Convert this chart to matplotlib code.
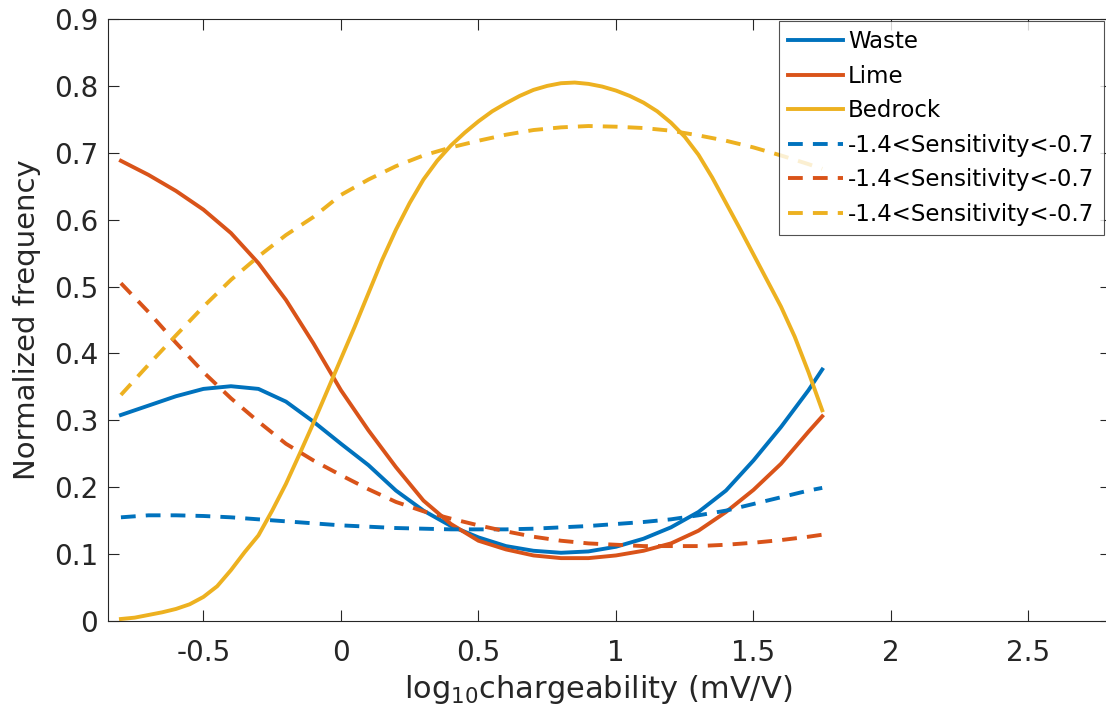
import numpy as np
import matplotlib
matplotlib.use("Agg")
import matplotlib.pyplot as plt
from matplotlib.ticker import FuncFormatter

# log10 chargeability grid (mV/V)
x = [-0.8, -0.7, -0.6, -0.5, -0.4, -0.3, -0.2, -0.1, 0.0, 0.1, 0.2, 0.3, 0.4,
     0.5, 0.6, 0.7, 0.8, 0.9, 1.0, 1.1, 1.2, 1.3, 1.4, 1.5, 1.6, 1.7, 1.75]
# finer grid for the strongly curved bedrock curve
x_fine = [-0.8, -0.75, -0.7, -0.65, -0.6, -0.55, -0.5, -0.45, -0.4, -0.35, -0.3,
          -0.25, -0.2, -0.15, -0.1, -0.05, 0.0, 0.05, 0.1, 0.15, 0.2, 0.25, 0.3,
          0.35, 0.4, 0.45, 0.5, 0.55, 0.6, 0.65, 0.7, 0.75, 0.8, 0.85, 0.9, 0.95,
          1.0, 1.05, 1.1, 1.15, 1.2, 1.25, 1.3, 1.35, 1.4, 1.45, 1.5, 1.55, 1.6,
          1.65, 1.7, 1.75]

waste = [0.308, 0.322, 0.336, 0.347, 0.351, 0.347, 0.328, 0.298, 0.265, 0.233,
         0.195, 0.165, 0.142, 0.125, 0.112, 0.105, 0.102, 0.104, 0.111, 0.123,
         0.140, 0.163, 0.195, 0.240, 0.290, 0.345, 0.376]
lime = [0.688, 0.667, 0.643, 0.615, 0.580, 0.535, 0.480, 0.415, 0.345, 0.285,
        0.230, 0.180, 0.145, 0.120, 0.107, 0.098, 0.094, 0.094, 0.098, 0.105,
        0.116, 0.135, 0.163, 0.196, 0.235, 0.283, 0.306]
bedrock = [0.003, 0.005, 0.009, 0.013, 0.018, 0.025, 0.036, 0.052, 0.076, 0.103,
           0.128, 0.165, 0.205, 0.250, 0.296, 0.344, 0.392, 0.440, 0.490, 0.540,
           0.585, 0.625, 0.660, 0.688, 0.711, 0.730, 0.747, 0.762, 0.774, 0.785,
           0.794, 0.800, 0.804, 0.805, 0.803, 0.799, 0.793, 0.785, 0.775, 0.762,
           0.745, 0.724, 0.697, 0.663, 0.625, 0.587, 0.548, 0.509, 0.470, 0.425,
           0.372, 0.315]

waste_sens = [0.155, 0.158, 0.158, 0.157, 0.155, 0.152, 0.149, 0.146, 0.143, 0.141,
              0.139, 0.138, 0.137, 0.137, 0.137, 0.138, 0.140, 0.142, 0.145, 0.148,
              0.152, 0.158, 0.165, 0.175, 0.185, 0.195, 0.199]
lime_sens = [0.505, 0.462, 0.416, 0.372, 0.333, 0.298, 0.265, 0.240, 0.218, 0.197,
             0.178, 0.164, 0.153, 0.143, 0.134, 0.126, 0.120, 0.116, 0.114, 0.112,
             0.112, 0.112, 0.114, 0.117, 0.121, 0.126, 0.129]
bedrock_sens = [0.338, 0.383, 0.427, 0.470, 0.510, 0.545, 0.577, 0.604, 0.637, 0.660,
                0.680, 0.696, 0.708, 0.718, 0.727, 0.734, 0.738, 0.740, 0.739, 0.737,
                0.733, 0.726, 0.718, 0.708, 0.696, 0.683, 0.676]

labels = ["Waste", "Lime", "Bedrock"]
sens_label = "-1.4<Sensitivity<-0.7"

colors = ["#0072BD", "#D95319", "#EDB120"]
dark = "#262626"

plt.rcParams["font.family"] = ["DejaVu Sans"]
plt.rcParams["mathtext.default"] = "regular"

fig = plt.figure(figsize=(11.06, 7.24), dpi=100)
ax = fig.add_axes([108 / 1106, 103 / 724, 1003 / 1106, 602 / 724])

lw = 2.8
xs = [x, x, x_fine]
for xx, y, c, lab in zip(xs, [waste, lime, bedrock], colors, labels):
    ax.plot(xx, y, color=c, lw=lw, label=lab)
for y, c in zip([waste_sens, lime_sens, bedrock_sens], colors):
    ax.plot(x, y, color=c, lw=lw, ls=(0, (3.8, 2.6)), label=sens_label)

ax.set_xlim(-0.847, 2.8)
ax.set_ylim(0, 0.9)
ax.set_xticks([-0.5, 0, 0.5, 1, 1.5, 2, 2.5])
ax.set_yticks(np.arange(0, 0.91, 0.1))
fmt = FuncFormatter(lambda v, p: "%g" % round(v, 2))
ax.xaxis.set_major_formatter(fmt)
ax.yaxis.set_major_formatter(fmt)

ax.tick_params(direction="in", length=8, width=0.8, colors=dark,
               labelsize=20, top=True, right=True)
ax.tick_params(axis="x", pad=13)
ax.tick_params(axis="y", pad=7)
for s in ax.spines.values():
    s.set_color(dark)
    s.set_linewidth(0.8)

ax.set_xlabel("log$_{10}$chargeability (mV/V)", fontsize=22, color=dark)
ax.xaxis.label.set_va("top")
ax.xaxis.set_label_coords(0.489, -0.087)
ax.set_ylabel("Normalized frequency", fontsize=21, color=dark, labelpad=9)

leg = ax.legend(loc="upper right", bbox_to_anchor=(0.993, 0.997), fontsize=16.5,
                frameon=True, fancybox=False, handlelength=2.4, handletextpad=0.2,
                borderaxespad=0, labelspacing=0.5, borderpad=0.42)
leg.get_frame().set_edgecolor(dark)
leg.get_frame().set_linewidth(0.8)
for t in leg.get_texts():
    t.set_color("black")

fig.savefig("out.png", dpi=100)
